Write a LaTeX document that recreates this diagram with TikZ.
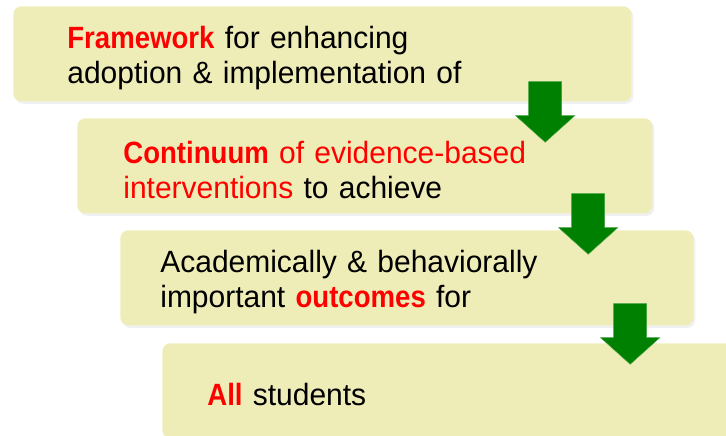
\documentclass[tikz,border=0pt]{standalone}
\usepackage{fontspec}
\setmainfont{Liberation Sans}[FakeStretch=0.975]
\usetikzlibrary{positioning,shadows}
\definecolor{straw}{HTML}{EFEDB7}
\definecolor{leaf}{HTML}{008000}
\definecolor{signal}{HTML}{FF0000}
\newcommand\hilite[1]{\textcolor{signal}{\scalebox{0.92}[1]{\textbf{#1}}}}
\tikzset{box/.style={fill=straw,rounded corners=4.5pt,anchor=north west,align=left,inner ysep=0pt,minimum height=1.9cm,text height=0.6cm,font=\fontsize{17.5}{20}\selectfont,drop shadow={shadow xshift=0.04cm,shadow yshift=-0.05cm,opacity=0.12}},pics/down/.style={code={\draw[fill=leaf,draw=leaf!75!white,line width=0.3pt] (-0.33,0)--(0.33,0)--(0.33,-0.68)--(0.59,-0.68)--(0,-1.21)--(-0.59,-0.68)--(-0.33,-0.68)--cycle;}}}

\begin{document}
\begin{tikzpicture}
\clip (0,0) rectangle (14.52,-8.72);
\node[box,text width=10.2cm,inner xsep=1.08cm] (frame) at (0.26,-0.12) {\hilite{Framework} for enhancing\\adoption \& implementation of};
\node[box,text width=9.66cm,inner xsep=0.92cm] (cont) at (1.54,-2.36) {\hilite{Continuum} \textcolor{signal}{of evidence-based}\\\textcolor{signal}{interventions} to achieve};
\node[box,text width=9.86cm,inner xsep=0.8cm] (acad) at (2.4,-4.6) {Academically \& behaviorally\\important \hilite{outcomes} for};
\node[box,text width=9.7cm,inner xsep=0.9cm] (all) at (3.24,-6.86) {\hilite{All} students};
% block arrows between the steps
\pic at ([shift={(-1.73,0.4)}]frame.south east) {down};
\pic at ([shift={(-1.29,0.4)}]cont.south east) {down};
\pic at ([shift={(-1.27,0.44)}]acad.south east) {down};
\end{tikzpicture}
\end{document}
